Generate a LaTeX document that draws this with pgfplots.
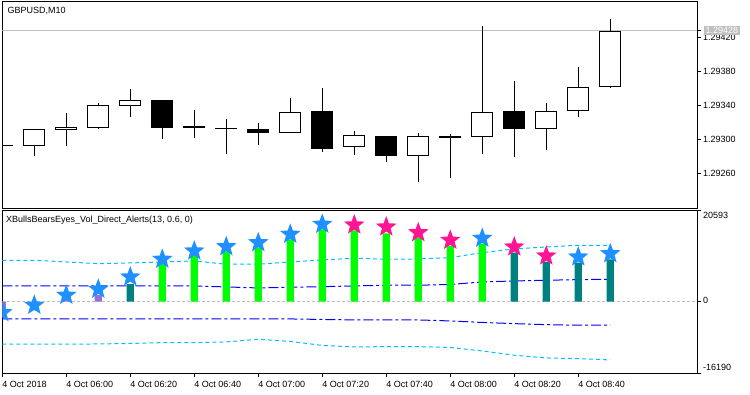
\documentclass[border=0pt]{standalone}
\usepackage{pgfplots}
\usepackage{pgfplotstable}
\pgfplotsset{compat=1.18}
\usepackage{fontspec}
\setmainfont{Liberation Sans}
\definecolor{silverc}{RGB}{192,192,192}
\definecolor{limec}{RGB}{0,255,0}
\definecolor{tealc}{RGB}{0,128,128}
\definecolor{purplec}{RGB}{147,112,219}
\definecolor{dodgerc}{RGB}{30,144,255}
\definecolor{pinkc}{RGB}{255,20,147}
\definecolor{skyc}{RGB}{0,191,255}
\definecolor{bluec}{RGB}{0,0,255}

\pgfdeclareplotmark{fstar}{%
  \pgfpathmoveto{\pgfpointpolar{90}{\pgfplotmarksize}}%
  \pgfpathlineto{\pgfpointpolar{126}{0.42*\pgfplotmarksize}}%
  \pgfpathlineto{\pgfpointpolar{162}{\pgfplotmarksize}}%
  \pgfpathlineto{\pgfpointpolar{198}{0.42*\pgfplotmarksize}}%
  \pgfpathlineto{\pgfpointpolar{234}{\pgfplotmarksize}}%
  \pgfpathlineto{\pgfpointpolar{270}{0.42*\pgfplotmarksize}}%
  \pgfpathlineto{\pgfpointpolar{306}{\pgfplotmarksize}}%
  \pgfpathlineto{\pgfpointpolar{342}{0.42*\pgfplotmarksize}}%
  \pgfpathlineto{\pgfpointpolar{18}{\pgfplotmarksize}}%
  \pgfpathlineto{\pgfpointpolar{54}{0.42*\pgfplotmarksize}}%
  \pgfpathclose
  \pgfusepathqfill
}

% prices in points above 1.29000 (1 point = 0.00001)
% all candles: low and high (wicks)
\pgfplotstableread{
x L H
0 292 294
1 281 312
2 293 331
3 313 343
4 326 359
5 301 346
6 302 335
7 283 324
8 294 319
9 308 349
10 285 360
11 282 310
12 274 304
13 250 308
14 255 307
15 283 433
16 280 369
17 288 343
18 327 385
19 360 441
}\allc
% bearish (black) bodies: lower and upper edge
\pgfplotstableread{
x lo hi
0 292 294
5 314 346
6 314 316
7 312.6 313.4
8 308 313
10 289 333
12 281 304
14 302 304
16 313 333
}\bear
% bullish (white) bodies: lower and upper edge
\pgfplotstableread{
x lo hi
1 293 312
2 311 315
3 314 341
4 340 346
9 308 332
11 291 305
13 281 304
15 303 332
17 313 333
18 333 362
19 362 428
}\bull

\pgfplotsset{
  mtstyle/.style={
    scale only axis, width=695pt, xmin=0, xmax=21.72,
    axis line style={line width=1pt},
    tick style={black, line width=1pt},
    major tick length=4pt,
    tick align=outside,
    tick label style={font=\fontsize{9}{10}\selectfont},
    ytick pos=right, yticklabel pos=right,
    yticklabel style={anchor=west, inner sep=0pt, xshift=1.5pt},
    scaled y ticks=false,
    clip marker paths=true,
  },
  candlebar/.style 2 args={draw=none, mark=none,
    error bars/.cd, y dir=plus, y explicit, error mark=none,
    error bar style={draw=#1, line width=#2}},
}

\begin{document}
\begin{tikzpicture}
\path[use as bounding box] (0,0) rectangle (750pt,394pt);

% ---------- price panel ----------
\begin{axis}[mtstyle,
  at={(2.3pt,185.7pt)}, anchor=south west, height=206.6pt,
  ymin=219.3, ymax=461.9,
  xtick=\empty,
  ytick={260,300,340,380,420},
  yticklabels={1.29260,1.29300,1.29340,1.29380,1.29420},
  extra y ticks={428},
  extra y tick labels={1.29428},
  extra y tick style={yticklabel style={fill=silverc, text=white, inner xsep=2pt, inner ysep=1pt, xshift=0.5pt}},
]
\addplot[silverc, line width=1pt] coordinates {(0,428) (21.72,428)};
% wicks
\addplot[candlebar={black}{1pt}]
  table[x=x, y=L, y error expr=\thisrow{H}-\thisrow{L}] {\allc};
% bearish bodies
\addplot[candlebar={black}{22pt}]
  table[x=x, y=lo, y error expr=\thisrow{hi}-\thisrow{lo}] {\bear};
% bullish bodies: outline, then white inside
\addplot[candlebar={black}{22pt}]
  table[x=x, y=lo, y error expr=\thisrow{hi}-\thisrow{lo}] {\bull};
\addplot[candlebar={white}{20pt}]
  table[x=x, y expr=\thisrow{lo}+1.17, y error expr=\thisrow{hi}-\thisrow{lo}-2.34] {\bull};
\node[anchor=base west, inner sep=0pt, font=\fontsize{9}{10}\selectfont]
  at (axis description cs:0,1) [xshift=5pt, yshift=-11.5pt] {GBPUSD,M10};
\end{axis}

% ---------- indicator panel ----------
\begin{axis}[mtstyle,
  at={(2.3pt,20.7pt)}, anchor=south west, height=162.8pt,
  ymin=-16190, ymax=20593,
  xtick={0,2,4,6,8,10,12,14,16,18},
  xticklabels={4 Oct 2018, 4 Oct 06:00, 4 Oct 06:20, 4 Oct 06:40, 4 Oct 07:00,
    4 Oct 07:20, 4 Oct 07:40, 4 Oct 08:00, 4 Oct 08:20, 4 Oct 08:40},
  xtick pos=bottom,
  xticklabel style={anchor=west, inner sep=0pt, yshift=-7pt},
  ytick={-16190,0,20593},
  yticklabels={\raisebox{2.8pt}[0pt][0pt]{-16190}, \raisebox{-2.2pt}[0pt][0pt]{0}, \raisebox{-8.4pt}[0pt][0pt]{20593}},
]
% zero level
\addplot[silverc, line width=1pt, dash pattern=on 3pt off 2pt] coordinates {(0,0) (21.72,0)};
% upper / lower outer levels
\addplot[skyc, line width=1pt, dash pattern=on 4pt off 3pt] coordinates {
 (0,9352) (1,9352) (2,8968) (3,8584) (4,8742) (5,8968) (6,9194) (7,8449) (8,8449) (9,8968)
 (10,9420) (11,9804) (12,9578) (13,9646) (14,9940) (15,11069) (16,11905) (17,12357) (18,12741) (19,12741)};
\addplot[skyc, line width=1pt, dash pattern=on 4pt off 3pt] coordinates {
 (0,-9623) (1,-9623) (2,-9623) (3,-9555) (4,-9442) (5,-9262) (6,-9262) (7,-9104) (8,-8494) (9,-8991)
 (10,-9894) (11,-10233) (12,-10166) (13,-10166) (14,-10346) (15,-11137) (16,-12108) (17,-12718) (18,-12876) (19,-13170)};
% inner levels
\addplot[bluec, line width=1pt, dash pattern=on 10pt off 3pt on 3pt off 3pt] coordinates {
 (0,3547) (1,3547) (2,3547) (3,3547) (4,3547) (5,3547) (6,3547) (7,3321) (8,3095) (9,3253)
 (10,3389) (11,3547) (12,3705) (13,3705) (14,3885) (15,4450) (16,4676) (17,4834) (18,4970) (19,5060)};
\addplot[bluec, line width=1pt, dash pattern=on 10pt off 3pt on 3pt off 3pt] coordinates {
 (0,-3908) (1,-3908) (2,-3908) (3,-3908) (4,-3908) (5,-3908) (6,-3908) (7,-3908) (8,-3908) (9,-3908)
 (10,-4021) (11,-4134) (12,-4134) (13,-4134) (14,-4360) (15,-4699) (16,-4970) (17,-5196) (18,-5331) (19,-5331)};
% histogram
\addplot[ybar, bar width=7.3pt, bar shift=0pt, fill=purplec, draw=none] coordinates {
 (0,-3614) (1,-1950) (2,316) (3,1514)};
\addplot[ybar, bar width=7.3pt, bar shift=0pt, fill=tealc, draw=none] coordinates {
 (4,3931) (16,11069) (17,9036) (18,8810) (19,9578)};
\addplot[ybar, bar width=7.3pt, bar shift=0pt, fill=limec, draw=none] coordinates {
 (5,8449) (6,10550) (7,11295) (8,12199) (9,14096) (10,16355) (11,16129) (12,15452) (13,14458) (14,12583) (15,13102)};
% signal stars
\addplot[only marks, mark=fstar, mark size=10.8pt, color=dodgerc] coordinates {
 (0,-2485) (1,-813) (2,1446) (3,2801) (4,5580) (5,9578) (6,11453) (7,12425) (8,13328) (9,15226)
 (10,17485) (15,14322) (18,10098) (19,10843)};
\addplot[only marks, mark=fstar, mark size=10.8pt, color=pinkc] coordinates {
 (11,17327) (12,16875) (13,15587) (14,13870) (16,12357) (17,10324)};
\node[anchor=base west, inner sep=0pt, font=\fontsize{9}{10}\selectfont]
  at (axis description cs:0,1) [xshift=3.7pt, yshift=-11.7pt] {XBullsBearsEyes\_Vol\_Direct\_Alerts(13, 0.6, 0)};
\end{axis}
\end{tikzpicture}
\end{document}
